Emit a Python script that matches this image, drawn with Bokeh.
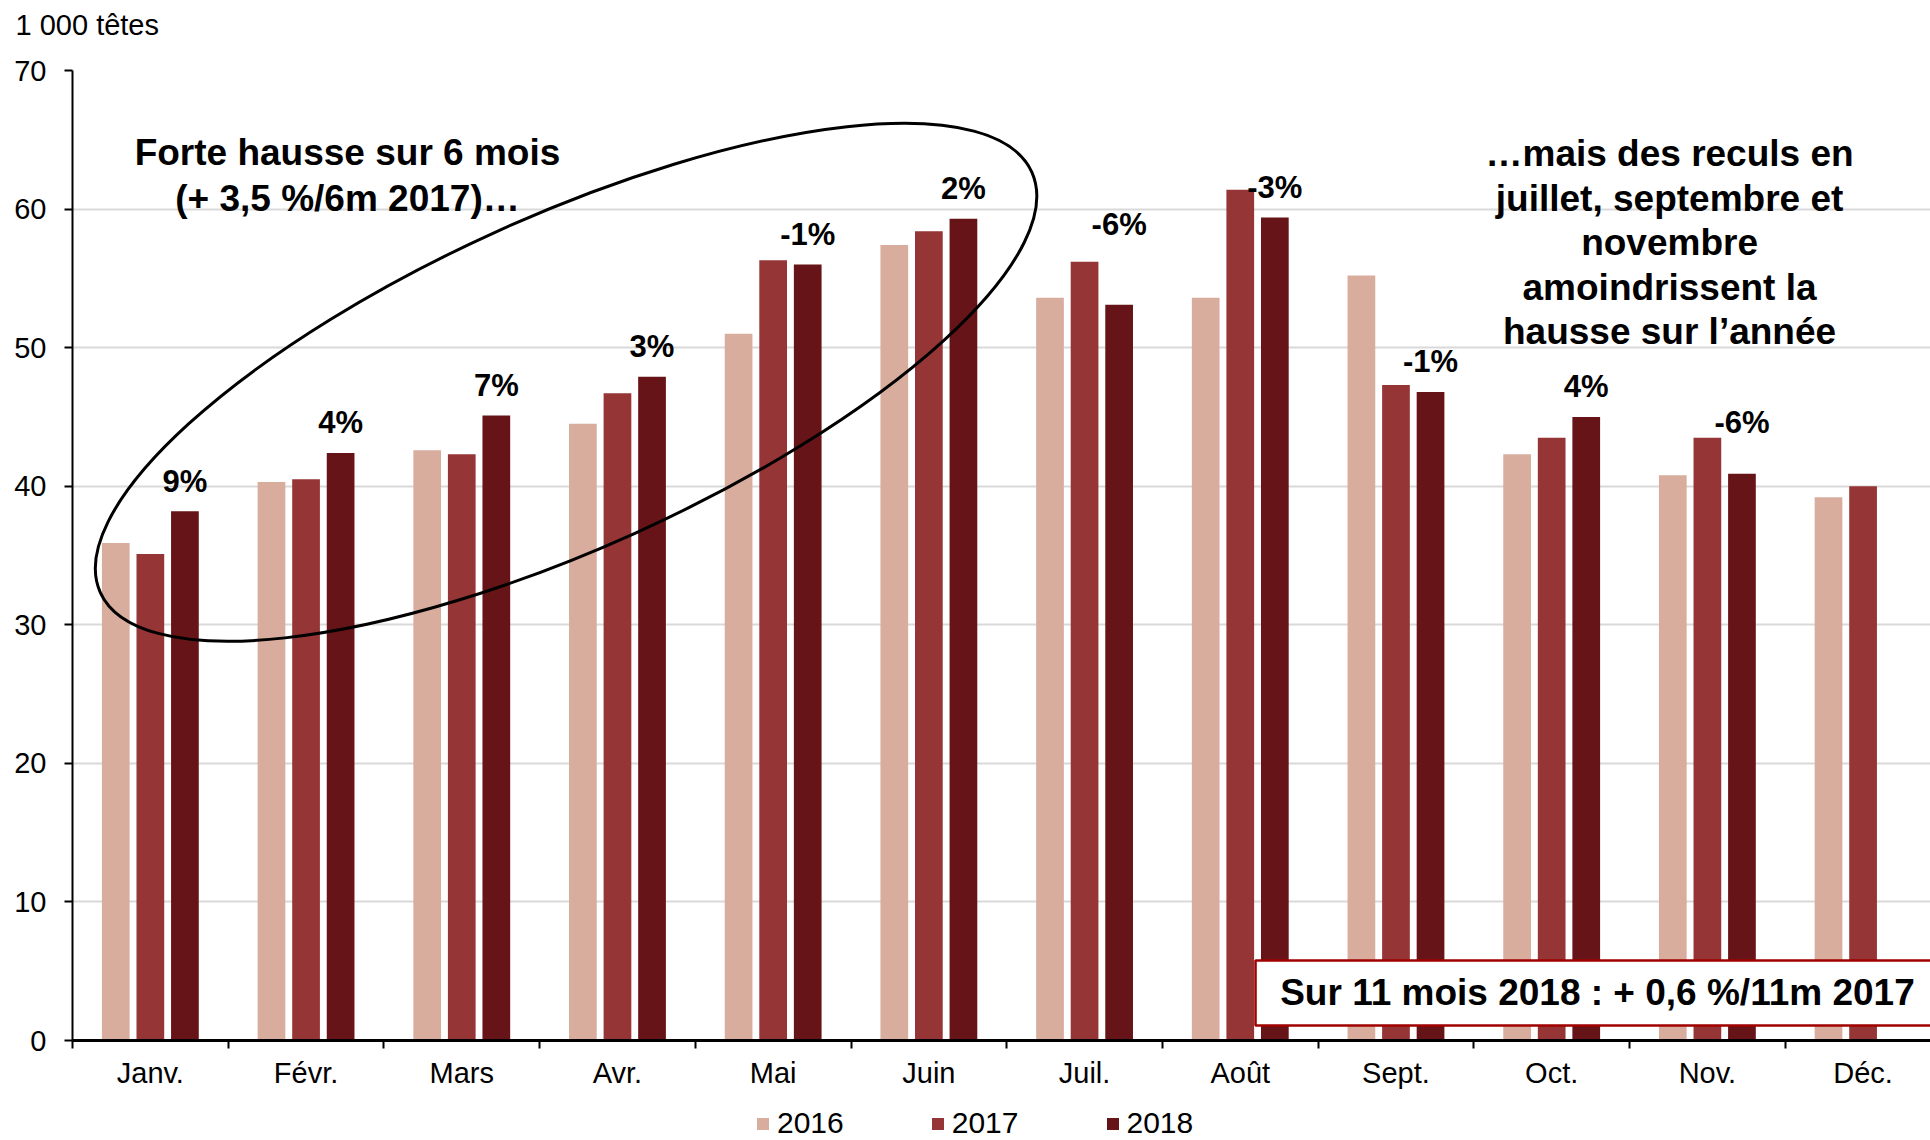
import numpy as np
from bokeh.plotting import figure
from bokeh.layouts import column
from bokeh.models import (Range1d, FixedTicker, Label, LabelSet, ColumnDataSource,
                          BoxAnnotation, Legend, LegendItem)
from bokeh.core.properties import value
from bokeh.embed import file_html
from bokeh.resources import INLINE

# ---------------- data ----------------
months = ["Janv.", "Févr.", "Mars", "Avr.", "Mai", "Juin",
          "Juil.", "Août", "Sept.", "Oct.", "Nov.", "Déc."]
years = ["2016", "2017", "2018"]
v2016 = [35.9, 40.3, 42.6, 44.5, 51.0, 57.4, 53.6, 53.6, 55.2, 42.3, 40.8, 39.2]
v2017 = [35.1, 40.5, 42.3, 46.7, 56.3, 58.4, 56.2, 61.4, 47.3, 43.5, 43.5, 40.0]
v2018 = [38.2, 42.4, 45.1, 47.9, 56.0, 59.3, 53.1, 59.4, 46.8, 45.0, 40.9]
pct_labels = ["9%", "4%", "7%", "3%", "-1%", "2%", "-6%", "-3%", "-1%", "4%", "-6%"]
y_ticks = [0, 10, 20, 30, 40, 50, 60, 70]
unit_label = "1 000 têtes"
note_left = ["Forte hausse sur 6 mois", "(+ 3,5 %/6m 2017)…"]
note_right = ["…mais des reculs en", "juillet, septembre et", "novembre",
              "amoindrissent la", "hausse sur l’année"]
note_box = "Sur 11 mois 2018 : + 0,6 %/11m 2017"

# label lift above the 2018 bar (screen px) – style only
label_lift = [30, 30, 30, 30, 30, 30, 80, 30, 30, 30, 51]

colors = ["#D9AD9E", "#963536", "#661417"]
FONT = "Liberation Sans"


def strip(height):
    f = figure(width=1930, height=height, output_backend="svg", toolbar_location=None,
               x_axis_location=None, y_axis_location=None, min_border=0,
               x_range=Range1d(0, 1), y_range=Range1d(0, 1), title=None)
    f.frame_align = False
    f.outline_line_color = None
    f.xgrid.grid_line_color = None
    f.ygrid.grid_line_color = None
    return f


# ---------------- unit strip (top) ----------------
top = strip(45)
top.add_layout(Label(x=15, y=21, x_units="screen", y_units="screen", text=unit_label,
                     text_font=FONT, text_font_size="29px", text_color="black",
                     text_align="left", text_baseline="alphabetic"))

# ---------------- main figure ----------------
p = figure(width=1930, height=1050, output_backend="svg", toolbar_location=None,
           x_range=Range1d(0, 11.933), y_range=Range1d(0, 70), title=None,
           min_border_left=72, min_border_right=0, min_border_top=25,
           min_border_bottom=55)
p.frame_align = False
p.outline_line_color = None
p.background_fill_color = "white"

idx = np.arange(len(months))
offs = [-0.222, 0.0, 0.222]
bw = 0.178
series = [v2016, v2017, v2018]
for k, (vals, col) in enumerate(zip(series, colors)):
    xs = idx[:len(vals)] + 0.5 + offs[k]
    p.vbar(x=xs, top=vals, width=bw, bottom=0, fill_color=col, line_color=None)

# percent labels above 2018 bars
src = ColumnDataSource(dict(x=idx[:len(v2018)] + 0.5 + offs[2], y=v2018,
                            t=pct_labels, dy=label_lift))
p.add_layout(LabelSet(x="x", y="y", text="t", source=src, y_offset="dy",
                      text_align="center", text_baseline="middle",
                      text_font=value(FONT), text_font_style="bold",
                      text_font_size="31px", text_color="black"))

# ellipse
p.ellipse(x=[3.17], y=[47.5], width=[1022], height=[332], angle=0.424,
          width_units="screen", height_units="screen",
          fill_color=None, line_color="black", line_width=3)

# grid
p.xgrid.grid_line_color = None
p.ygrid.ticker = FixedTicker(ticks=y_ticks)
p.ygrid.grid_line_color = "#D9D9D9"
p.ygrid.grid_line_width = 2

# y axis
ya = p.yaxis[0]
ya.ticker = FixedTicker(ticks=y_ticks)
ya.axis_line_color = "black"
ya.axis_line_width = 2
ya.major_tick_out = 8
ya.major_tick_in = 0
ya.major_tick_line_width = 2
ya.minor_tick_line_color = None
ya.major_label_standoff = 18
ya.major_label_text_font = FONT
ya.major_label_text_font_size = "29px"
ya.major_label_text_color = "black"

# x axis
xa = p.xaxis[0]
centers = [i + 0.5 for i in range(len(months))]
xa.ticker = FixedTicker(ticks=centers, minor_ticks=list(range(len(months) + 1)))
xa.major_label_overrides = {c: m for c, m in zip(centers, months)}
xa.major_tick_out = 0
xa.major_tick_in = 0
xa.minor_tick_out = 8
xa.minor_tick_in = 0
xa.minor_tick_line_color = "black"
xa.minor_tick_line_width = 2
xa.axis_line_color = "black"
xa.axis_line_width = 3
xa.major_label_standoff = 8
xa.major_label_text_font = FONT
xa.major_label_text_font_size = "29px"
xa.major_label_text_color = "black"

# annotations
for i, line in enumerate(note_left):
    p.add_layout(Label(x=1.766, y=64.1 - i * 3.32, text=line, text_font=FONT,
                       text_font_style="bold", text_font_size="37px",
                       text_align="center", text_baseline="middle", text_color="black"))
for i, line in enumerate(note_right):
    p.add_layout(Label(x=10.257, y=64.0 - i * 3.21, text=line, text_font=FONT,
                       text_font_style="bold", text_font_size="37px",
                       text_align="center", text_baseline="middle", text_color="black"))

p.add_layout(BoxAnnotation(left=7.598, right=12.3, bottom=1.08, top=5.77,
                           fill_color="white", fill_alpha=1.0,
                           line_color="#A00000", line_width=2.5, line_alpha=1.0))
p.add_layout(Label(x=9.794, y=3.46, text=note_box, text_font=FONT,
                   text_font_style="bold", text_font_size="37px",
                   text_align="center", text_baseline="middle", text_color="black"))

# ---------------- legend strip (bottom) ----------------
lg = strip(45)
leg_renderers = [lg.vbar(x=[0.5], top=[0], bottom=[0], width=0.01, fill_color=c, line_color=None)
                 for c in colors]
legend = Legend(items=[LegendItem(label=y, renderers=[r]) for y, r in zip(years, leg_renderers)],
                orientation="horizontal", location=(755, 0),
                glyph_width=15, glyph_height=15, label_standoff=7, spacing=86,
                padding=0, margin=0, border_line_color=None,
                background_fill_alpha=0,
                label_text_font=FONT, label_text_font_size="30px",
                label_text_color="black")
lg.add_layout(legend, "center")

open("out.html", "w").write(file_html(column(top, p, lg, spacing=0), INLINE))
